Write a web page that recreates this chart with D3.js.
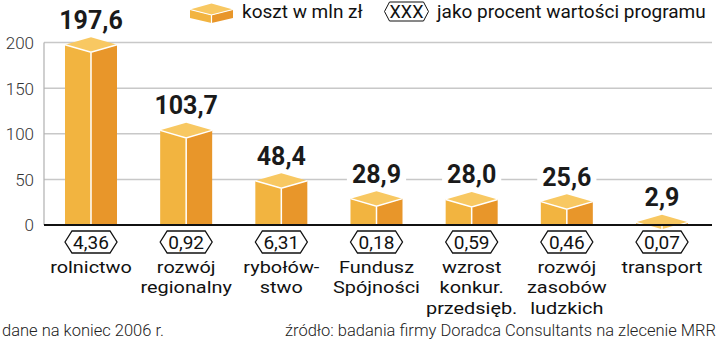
<!DOCTYPE html>
<html><head><meta charset="utf-8">
<script src="https://cdn.jsdelivr.net/npm/d3@7"></script>
<style>
html,body{margin:0;padding:0;background:#fff;}
svg{display:block;font-family:Roboto,"Noto Sans",sans-serif;}
</style></head>
<body>
<svg id="c" width="720" height="342"></svg>
<script>
const categories = [["rolnictwo"],["rozwój","regionalny"],["rybołów-","stwo"],["Fundusz","Spójności"],["wzrost","konkur.","przedsięb."],["rozwój","zasobów","ludzkich"],["transport"]];
const values = [197.6, 103.7, 48.4, 28.9, 28.0, 25.6, 2.9];
const valueLabels = ["197,6","103,7","48,4","28,9","28,0","25,6","2,9"];
const percents = ["4,36","0,92","6,31","0,18","0,59","0,46","0,07"];
const yTicks = [0, 50, 100, 150, 200];
const legendCost = "koszt w mln zł";
const legendPct = "jako procent wartości programu";
const noteLeft = "dane na koniec 2006 r.";
const noteRight = "źródło: badania firmy Doradca Consultants na zlecenie MRR";

const cLeft = "#f2b440", cRight = "#e8962a", cTop = "#f8c862";
const svg = d3.select("#c");
const idx = d3.range(values.length);
const x = d3.scalePoint().domain(idx).range([91, 662]);
const y = d3.scaleLinear().domain([0, 200]).range([225, 42.5]);
const bw = 52, depth = 7.5;
const axisX = 44, rightX = 712;

// gridlines
svg.append("g").selectAll("line").data(yTicks.filter(d => d > 0)).join("line")
  .attr("x1", axisX).attr("x2", rightX).attr("y1", d => y(d)).attr("y2", d => y(d))
  .attr("stroke", "#c8c8c8").attr("stroke-width", 1.5);
// vertical axis line
svg.append("line").attr("x1", axisX).attr("x2", axisX).attr("y1", y(200)).attr("y2", y(0))
  .attr("stroke", "#b0b0b0").attr("stroke-width", 1.2);

// y axis labels
const yAxis = d3.axisLeft(y).tickValues(yTicks).tickSize(0).tickPadding(10);
const ga = svg.append("g").attr("transform", `translate(${axisX},0)`).call(yAxis);
ga.select(".domain").remove();
ga.selectAll("text").attr("font-size", 17).attr("font-weight", 300).attr("fill", "#333")
  .attr("font-family", "Roboto, sans-serif").attr("dy", "0.35em");

// value labels with white knockout
const vl = svg.append("g");
idx.forEach(i => {
  const t = vl.append("text").attr("x", x(i)).attr("y", y(values[i]) - 16)
    .attr("text-anchor", "middle").attr("font-size", 25).attr("font-weight", 700)
    .attr("fill", "#1a1a1a").text(valueLabels[i]);
  const b = t.node().getBBox();
  vl.insert("rect", () => t.node()).attr("x", b.x - 5).attr("y", b.y).attr("width", b.width + 10)
    .attr("height", b.height).attr("fill", "#fff");
});

// bars (cubes)
const bars = svg.append("g");
idx.forEach(i => {
  const xc = x(i), x0 = xc - bw / 2, x1 = xc + bw / 2;
  const yv = y(values[i]), yb = y(0) + 1;
  const g = bars.append("g");
  g.append("path").attr("d", `M${x0},${yv}L${xc},${yv + depth}L${xc},${yb}L${x0},${yb}Z`).attr("fill", cLeft);
  g.append("path").attr("d", `M${xc},${yv + depth}L${x1},${yv}L${x1},${yb}L${xc},${yb}Z`).attr("fill", cRight);
  g.append("path").attr("d", `M${x0},${yv}L${xc},${yv - depth}L${x1},${yv}L${xc},${yv + depth}Z`).attr("fill", cTop);
  g.append("path").attr("d", `M${x0},${yv}L${xc},${yv + depth}L${x1},${yv}M${xc},${yv + depth}L${xc},${yb}`)
    .attr("fill", "none").attr("stroke", "#fff").attr("stroke-width", 1.5);
});

// baseline
svg.append("line").attr("x1", axisX).attr("x2", rightX).attr("y1", y(0)).attr("y2", y(0))
  .attr("stroke", "#111").attr("stroke-width", 2);

// hexagon labels
function hex(cx, cy, w, h, p) {
  const hw = w / 2, hh = h / 2;
  return `M${cx - hw},${cy}L${cx - hw + p},${cy - hh}L${cx + hw - p},${cy - hh}L${cx + hw},${cy}L${cx + hw - p},${cy + hh}L${cx - hw + p},${cy + hh}Z`;
}
const hx = svg.append("g");
idx.forEach(i => {
  hx.append("path").attr("d", hex(x(i), 242, 52, 22, 7)).attr("fill", "#fff")
    .attr("stroke", "#111").attr("stroke-width", 1.3);
  hx.append("text").attr("x", x(i)).attr("y", 249).attr("text-anchor", "middle")
    .attr("font-size", 19).attr("fill", "#111").text(percents[i]);
});

// category labels (slightly widened glyphs, tight leading)
const cl = svg.append("g");
idx.forEach(i => {
  const g = cl.append("g").attr("transform", `translate(${x(i)},0) scale(1.15,1)`);
  const t = g.append("text").attr("text-anchor", "middle").attr("font-size", 17.3).attr("fill", "#111");
  categories[i].forEach((line, k) => {
    t.append("tspan").attr("x", 0).attr("y", 273 + k * 20.5).text(line);
  });
});

// legend
const lg = svg.append("g");
const lc = 211.5, lw = 21.5;
lg.append("path").attr("d", `M${lc - lw},9.5L${lc},15L${lc},23L${lc - lw},18Z`).attr("fill", cLeft);
lg.append("path").attr("d", `M${lc},15L${lc + lw},9.5L${lc + lw},18L${lc},23Z`).attr("fill", cRight);
lg.append("path").attr("d", `M${lc - lw},9.5L${lc},3.5L${lc + lw},9.5L${lc},15Z`).attr("fill", cTop);
lg.append("path").attr("d", `M${lc - lw},9.5L${lc},15L${lc + lw},9.5M${lc},15L${lc},23`).attr("fill", "none")
  .attr("stroke", "#fff").attr("stroke-width", 1.2);
lg.append("text").attr("x", 242).attr("y", 18).attr("font-size", 19).attr("fill", "#111").text(legendCost);
lg.append("path").attr("d", hex(406.5, 11.5, 44, 19, 5)).attr("fill", "#fff").attr("stroke", "#111").attr("stroke-width", 1);
lg.append("text").attr("x", 406.5).attr("y", 18).attr("text-anchor", "middle").attr("font-size", 18)
  .attr("fill", "#111").text("XXX");
lg.append("text").attr("x", 437).attr("y", 18).attr("font-size", 19).attr("fill", "#111").text(legendPct);

// footer
svg.append("text").attr("x", 2).attr("y", 336).attr("font-size", 16.5).attr("font-weight", 300)
  .attr("fill", "#222").text(noteLeft);
svg.append("text").attr("x", 716).attr("y", 336).attr("text-anchor", "end").attr("font-size", 16.5)
  .attr("font-weight", 300).attr("fill", "#222").text(noteRight);
</script>
</body></html>
